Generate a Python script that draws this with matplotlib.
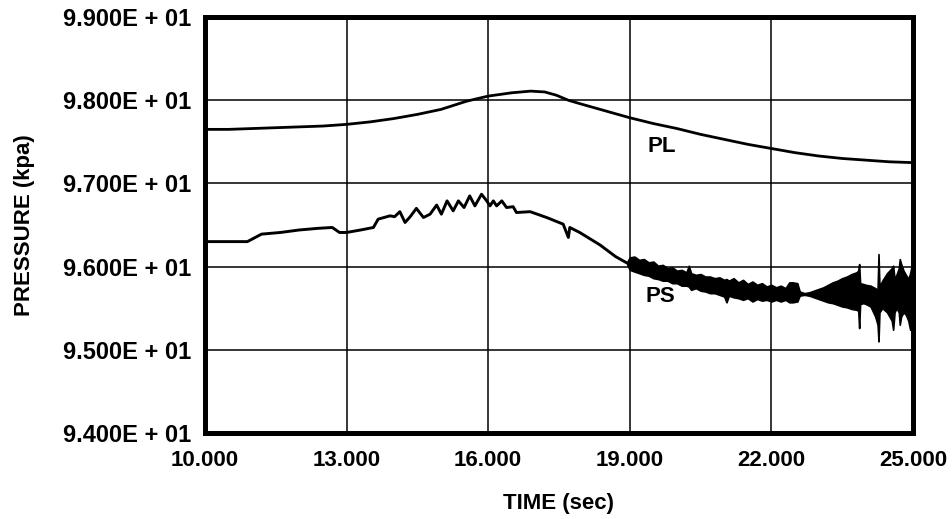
import numpy as np
import matplotlib.pyplot as plt
from matplotlib.ticker import FuncFormatter

# PL: smooth pressure trace
t_pl = [10.0, 10.5, 11.0, 11.5, 12.0, 12.5, 13.0, 13.5, 14.0, 14.5, 15.0, 15.55, 16.0,
        16.5, 16.9, 17.2, 17.45, 17.7, 18.0, 18.5, 19.0, 19.5, 20.0, 20.5, 21.0, 21.5,
        22.0, 22.5, 23.0, 23.5, 24.0, 24.5, 25.0]
p_pl = [97.65, 97.65, 97.66, 97.67, 97.68, 97.69, 97.71, 97.74, 97.78, 97.83, 97.89, 97.99, 98.05,
        98.09, 98.11, 98.10, 98.06, 98.00, 97.95, 97.87, 97.79, 97.72, 97.66, 97.59, 97.53, 97.47,
        97.42, 97.37, 97.33, 97.30, 97.28, 97.26, 97.25]

# PS: static pressure, wavy part up to ~19 s
t_ps = [10.0, 10.9, 11.0, 11.2, 11.6, 12.0, 12.4, 12.7, 12.85, 13.0, 13.3, 13.57, 13.67,
        13.92, 14.02, 14.13, 14.24, 14.35, 14.48, 14.63, 14.77, 14.91, 15.01, 15.13, 15.26,
        15.37, 15.49, 15.61, 15.72, 15.86, 15.97, 16.04, 16.11, 16.18, 16.29, 16.39, 16.53,
        16.60, 16.89, 17.24, 17.59, 17.70, 17.73, 17.94, 18.37, 18.7, 18.95]
p_ps = [96.30, 96.30, 96.33, 96.39, 96.41, 96.44, 96.46, 96.47, 96.41, 96.41, 96.44, 96.47, 96.57,
        96.61, 96.60, 96.66, 96.53, 96.60, 96.70, 96.59, 96.63, 96.74, 96.63, 96.79, 96.67,
        96.79, 96.71, 96.85, 96.73, 96.87, 96.79, 96.73, 96.79, 96.73, 96.79, 96.71, 96.72,
        96.65, 96.66, 96.59, 96.51, 96.35, 96.47, 96.41, 96.26, 96.12, 96.04]

# PS after 19 s: oscillating, drawn as upper/lower envelope
t_env = [18.95, 19.0, 19.1, 19.2, 19.3, 19.4, 19.5, 19.6, 19.7, 19.8, 19.9, 20.0, 20.1, 20.2,
         20.25, 20.3, 20.4, 20.5, 20.6, 20.7, 20.8, 20.9, 21.0, 21.05, 21.1, 21.2, 21.3, 21.4,
         21.5, 21.6, 21.7, 21.8, 21.9, 22.0, 22.1, 22.2, 22.3, 22.38, 22.45, 22.55, 22.6, 22.7,
         22.8, 22.9, 23.0, 23.1, 23.2, 23.3, 23.4, 23.5, 23.6, 23.7, 23.8, 23.84, 23.86, 23.88,
         23.95, 24.0, 24.1, 24.2, 24.25, 24.27, 24.29, 24.35, 24.45, 24.55, 24.58, 24.61, 24.65,
         24.7, 24.72, 24.75, 24.8, 24.85, 24.9, 24.94, 24.97, 25.0]
p_hi = [96.06, 96.11, 96.12, 96.08, 96.09, 96.05, 96.06, 96.01, 96.02, 95.98, 95.99, 95.95, 95.96, 95.93,
        96.01, 95.92, 95.90, 95.91, 95.88, 95.88, 95.86, 95.87, 95.84, 95.85, 95.83, 95.86, 95.81, 95.84,
        95.79, 95.82, 95.78, 95.80, 95.76, 95.78, 95.75, 95.77, 95.74, 95.81, 95.81, 95.80, 95.70, 95.68,
        95.69, 95.71, 95.73, 95.75, 95.78, 95.81, 95.83, 95.86, 95.88, 95.91, 95.93, 95.95, 96.03, 95.80,
        95.79, 95.78, 95.77, 95.74, 95.72, 96.15, 95.76, 95.83, 95.92, 95.98, 96.01, 95.85, 95.90,
        95.98, 96.09, 96.03, 95.95, 95.90, 95.85, 95.92, 96.00, 95.95]
p_lo = [96.02, 95.96, 95.94, 95.92, 95.90, 95.89, 95.86, 95.85, 95.83, 95.83, 95.80, 95.80, 95.77, 95.77,
        95.76, 95.72, 95.74, 95.71, 95.70, 95.68, 95.68, 95.66, 95.64, 95.57, 95.65, 95.63, 95.62, 95.60,
        95.62, 95.58, 95.61, 95.59, 95.60, 95.58, 95.60, 95.58, 95.60, 95.57, 95.57, 95.58, 95.65, 95.66,
        95.65, 95.63, 95.61, 95.59, 95.57, 95.56, 95.54, 95.52, 95.51, 95.49, 95.48, 95.47, 95.26, 95.55,
        95.56, 95.55, 95.52, 95.40, 95.30, 95.10, 95.45, 95.50, 95.45, 95.35, 95.24, 95.45, 95.50,
        95.45, 95.30, 95.40, 95.45, 95.42, 95.35, 95.24, 95.30, 95.35]

xticks = [10, 13, 16, 19, 22, 25]
yticks = [94, 95, 96, 97, 98, 99]

plt.rcParams['font.family'] = ['Liberation Sans', 'DejaVu Sans']
plt.rcParams['font.weight'] = 'bold'

fig = plt.figure(figsize=(9.53, 5.19), dpi=100)
ax = fig.add_axes([0.215, 0.166, 0.743, 0.801])

ax.plot(t_pl, p_pl, color='black', lw=2.0)
ax.plot(t_ps, p_ps, color='black', lw=2.1)
ax.fill_between(t_env, p_lo, p_hi, color='black', lw=1.2)

ax.text(19.68, 97.44, 'PL', fontsize=16, fontweight='bold', ha='center', va='center')
ax.text(19.64, 95.64, 'PS', fontsize=16, fontweight='bold', ha='center', va='center')

ax.set_xlim(10, 25)
ax.set_ylim(94, 99)
ax.set_xticks(xticks)
ax.set_yticks(yticks)
ax.xaxis.set_major_formatter(FuncFormatter(lambda v, pos: f'{v:.3f}'))
ax.yaxis.set_major_formatter(FuncFormatter(lambda v, pos: f'{v:.3E}'.replace('E+', 'E + ')))
ax.tick_params(length=0)
ax.tick_params(axis='x', labelsize=16, pad=12)
ax.tick_params(axis='y', labelsize=17, pad=10)
for lab in ax.get_xticklabels() + ax.get_yticklabels():
    lab.set_fontweight('bold')

ax.grid(True, color='black', lw=1.1)
for s in ax.spines.values():
    s.set_linewidth(3.6)

ax.set_xlabel('TIME (sec)', fontsize=16, fontweight='bold', labelpad=16)
ax.set_ylabel('PRESSURE (kpa)', fontsize=16, fontweight='bold', labelpad=20)

fig.savefig('out.png', dpi=100)
